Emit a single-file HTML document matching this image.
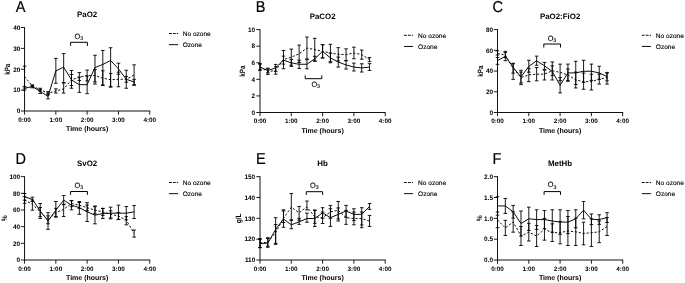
<!DOCTYPE html><html><head><meta charset="utf-8"><title>Figure</title><style>html,body{margin:0;padding:0;background:#fff;}body{width:685px;height:283px;overflow:hidden;font-family:"Liberation Sans",sans-serif;}svg{display:block;will-change:transform;}</style></head><body><svg width="685" height="283" viewBox="0 0 685 283" text-rendering="geometricPrecision" font-family="Liberation Sans, sans-serif">
<rect width="685" height="283" fill="#fff"/>
<g><text transform="translate(15.8 12) scale(0.92 1)" font-size="15.8" fill="#000" stroke="#000" stroke-width="0.2">A</text><text x="87.15" y="17" font-size="7.9" font-weight="bold" text-anchor="middle" fill="#000">PaO2</text><path d="M24.55 27.1V111H150.15" fill="none" stroke="#111" stroke-width="1"/><text x="20.25" y="113.25" font-size="6.4" font-weight="bold" text-anchor="end" fill="#000">0</text><text x="20.25" y="92.38" font-size="6.4" font-weight="bold" text-anchor="end" fill="#000">10</text><text x="20.25" y="71.5" font-size="6.4" font-weight="bold" text-anchor="end" fill="#000">20</text><text x="20.25" y="50.62" font-size="6.4" font-weight="bold" text-anchor="end" fill="#000">30</text><text x="20.25" y="29.75" font-size="6.4" font-weight="bold" text-anchor="end" fill="#000">40</text><text x="24.55" y="121.75" font-size="6.35" font-weight="bold" text-anchor="middle" fill="#000">0:00</text><text x="55.85" y="121.75" font-size="6.35" font-weight="bold" text-anchor="middle" fill="#000">1:00</text><text x="87.15" y="121.75" font-size="6.35" font-weight="bold" text-anchor="middle" fill="#000">2:00</text><text x="118.45" y="121.75" font-size="6.35" font-weight="bold" text-anchor="middle" fill="#000">3:00</text><text x="149.75" y="121.75" font-size="6.35" font-weight="bold" text-anchor="middle" fill="#000">4:00</text><path d="M20.85 111H24.55M20.85 90.12H24.55M20.85 69.25H24.55M20.85 48.38H24.55M20.85 27.5H24.55M24.55 111V114.7M55.85 111V114.7M87.15 111V114.7M118.45 111V114.7M149.75 111V114.7" fill="none" stroke="#111" stroke-width="0.95"/><text x="87.15" y="131.1" font-size="7" font-weight="bold" text-anchor="middle" fill="#000">Time (hours)</text><text transform="translate(9.9 69.25) rotate(-90) scale(0.817 1)" font-size="7.7" font-weight="bold" text-anchor="middle" fill="#000">kPa</text><path d="M169 33.5h9.1" stroke="#000" stroke-width="0.95" stroke-dasharray="2.8 1.1" fill="none"/><path d="M169 44.65h9.1" stroke="#000" stroke-width="0.95" fill="none"/><text x="182.7" y="36" font-size="6.55" fill="#000" stroke="#000" stroke-width="0.12">No ozone</text><text x="182.7" y="47.15" font-size="6.55" fill="#000" stroke="#000" stroke-width="0.12">Ozone</text><path d="M70.6 45.9V42.3H87.4V45.9" fill="none" stroke="#000" stroke-width="1"/><text transform="translate(78.8 39) scale(0.94 1)" font-size="7.8" text-anchor="middle" fill="#000" stroke="#000" stroke-width="0.12">O<tspan font-size="5.5" dy="1.2">3</tspan></text><path d="M24.55 66.12V88.04M22.75 66.12h3.6M22.75 88.04h3.6M32.38 84.91V86.99M30.57 84.91h3.6M30.57 86.99h3.6M40.2 88.25V91.17M38.4 88.25h3.6M38.4 91.17h3.6M48.03 91.59V94.93M46.23 91.59h3.6M46.23 94.93h3.6M55.85 88.87V93.05M54.05 88.87h3.6M54.05 93.05h3.6M63.67 83.03V93.05M61.88 83.03h3.6M61.88 93.05h3.6M71.5 70.5V85.53M69.7 70.5h3.6M69.7 85.53h3.6M79.33 72.59V80.52M77.53 72.59h3.6M77.53 80.52h3.6M87.15 70.09V80.94M85.35 70.09h3.6M85.35 80.94h3.6M94.97 69.67V81.98M93.17 69.67h3.6M93.17 81.98h3.6M102.8 70.71V84.91M101 70.71h3.6M101 84.91h3.6M110.62 73.43V86.37M108.83 73.43h3.6M108.83 86.37h3.6M118.45 72.17V86.78M116.65 72.17h3.6M116.65 86.78h3.6M126.28 76.35V82.19M124.48 76.35h3.6M124.48 82.19h3.6M134.1 64.87V85.32M132.3 64.87h3.6M132.3 85.32h3.6" fill="none" stroke="#000" stroke-width="0.9"/><path d="M24.55 86.37V90.12M22.75 86.37h3.6M22.75 90.12h3.6M32.38 85.32V87.83M30.57 85.32h3.6M30.57 87.83h3.6M40.2 89.29V93.47M38.4 89.29h3.6M38.4 93.47h3.6M48.03 93.67V98.89M46.23 93.67h3.6M46.23 98.89h3.6M55.85 58.4V83.24M54.05 58.4h3.6M54.05 83.24h3.6M63.67 53.59V82.61M61.88 53.59h3.6M61.88 82.61h3.6M71.5 74.47V88.25M69.7 74.47h3.6M69.7 88.25h3.6M79.33 77.18V92.42M77.53 77.18h3.6M77.53 92.42h3.6M87.15 76.14V93.67M85.35 76.14h3.6M85.35 93.67h3.6M94.97 55.26V84.07M93.17 55.26h3.6M93.17 84.07h3.6M102.8 50.46V85.53M101 50.46h3.6M101 85.53h3.6M110.62 47.75V87.2M108.83 47.75h3.6M108.83 87.2h3.6M118.45 63.2V74.26M116.65 63.2h3.6M116.65 74.26h3.6M126.28 70.29V88.25M124.48 70.29h3.6M124.48 88.25h3.6M134.1 79.27V84.7M132.3 79.27h3.6M132.3 84.7h3.6" fill="none" stroke="#000" stroke-width="0.9"/><polyline points="24.55,76.56 32.38,85.95 40.2,89.71 48.03,93.26 55.85,90.96 63.67,88.87 71.5,79.9 79.33,77.18 87.15,75.51 94.97,75.51 102.8,78.23 110.62,79.69 118.45,79.27 126.28,79.27 134.1,75.09" fill="none" stroke="#000" stroke-width="0.95" stroke-dasharray="2.2 1.8"/><polyline points="24.55,88.25 32.38,86.58 40.2,91.38 48.03,96.39 55.85,70.92 63.67,67.16 71.5,79.9 79.33,84.7 87.15,84.7 94.97,67.58 102.8,64.45 110.62,60.48 118.45,68.83 126.28,79.27 134.1,81.98" fill="none" stroke="#000" stroke-width="0.95"/></g>
<g><text transform="translate(255.7 11.8) scale(0.92 1)" font-size="15.8" fill="#000" stroke="#000" stroke-width="0.2">B</text><text x="322.6" y="18.6" font-size="7.9" font-weight="bold" text-anchor="middle" fill="#000">PaCO2</text><path d="M260 29.2V112.5H385.6" fill="none" stroke="#111" stroke-width="1"/><text x="255.1" y="114.75" font-size="6.4" font-weight="bold" text-anchor="end" fill="#000">0</text><text x="255.1" y="98.17" font-size="6.4" font-weight="bold" text-anchor="end" fill="#000">2</text><text x="255.1" y="81.59" font-size="6.4" font-weight="bold" text-anchor="end" fill="#000">4</text><text x="255.1" y="65.01" font-size="6.4" font-weight="bold" text-anchor="end" fill="#000">6</text><text x="255.1" y="48.43" font-size="6.4" font-weight="bold" text-anchor="end" fill="#000">8</text><text x="255.1" y="31.85" font-size="6.4" font-weight="bold" text-anchor="end" fill="#000">10</text><text x="260" y="123.25" font-size="6.35" font-weight="bold" text-anchor="middle" fill="#000">0:00</text><text x="291.3" y="123.25" font-size="6.35" font-weight="bold" text-anchor="middle" fill="#000">1:00</text><text x="322.6" y="123.25" font-size="6.35" font-weight="bold" text-anchor="middle" fill="#000">2:00</text><text x="353.9" y="123.25" font-size="6.35" font-weight="bold" text-anchor="middle" fill="#000">3:00</text><text x="385.2" y="123.25" font-size="6.35" font-weight="bold" text-anchor="middle" fill="#000">4:00</text><path d="M256.3 112.5H260M256.3 95.92H260M256.3 79.34H260M256.3 62.76H260M256.3 46.18H260M256.3 29.6H260M260 112.5V116.2M291.3 112.5V116.2M322.6 112.5V116.2M353.9 112.5V116.2M385.2 112.5V116.2" fill="none" stroke="#111" stroke-width="0.95"/><text x="322.6" y="132.6" font-size="7" font-weight="bold" text-anchor="middle" fill="#000">Time (hours)</text><text transform="translate(244.8 71.05) rotate(-90) scale(0.817 1)" font-size="7.7" font-weight="bold" text-anchor="middle" fill="#000">kPa</text><path d="M404 35.25h9.1" stroke="#000" stroke-width="0.95" stroke-dasharray="2.8 1.1" fill="none"/><path d="M404 46.45h9.1" stroke="#000" stroke-width="0.95" fill="none"/><text x="418.1" y="37.75" font-size="6.55" fill="#000" stroke="#000" stroke-width="0.12">No ozone</text><text x="418.1" y="48.95" font-size="6.55" fill="#000" stroke="#000" stroke-width="0.12">Ozone</text><path d="M305.2 75.4V78.7H321.8V75.4" fill="none" stroke="#000" stroke-width="1"/><text transform="translate(315.7 87.1) scale(0.94 1)" font-size="7.8" text-anchor="middle" fill="#000" stroke="#000" stroke-width="0.12">O<tspan font-size="5.5" dy="1.2">3</tspan></text><path d="M260 63.59V70.22M258.2 63.59h3.6M258.2 70.22h3.6M267.82 68.73V74.53M266.02 68.73h3.6M266.02 74.53h3.6M275.65 66.74V74.2M273.85 66.74h3.6M273.85 74.2h3.6M283.48 50.49V68.73M281.68 50.49h3.6M281.68 68.73h3.6M291.3 49.08V65.16M289.5 49.08h3.6M289.5 65.16h3.6M299.12 45.1V62.51M297.32 45.1h3.6M297.32 62.51h3.6M306.95 37.06V58.95M305.15 37.06h3.6M305.15 58.95h3.6M314.77 38.3V61.02M312.97 38.3h3.6M312.97 61.02h3.6M322.6 44.69V57.95M320.8 44.69h3.6M320.8 57.95h3.6M330.43 44.27V61.68M328.62 44.27h3.6M328.62 61.68h3.6M338.25 47.67V60.94M336.45 47.67h3.6M336.45 60.94h3.6M346.07 48.83V60.44M344.27 48.83h3.6M344.27 60.44h3.6M353.9 47.17V58.78M352.1 47.17h3.6M352.1 58.78h3.6M361.73 50.08V59.2M359.93 50.08h3.6M359.93 59.2h3.6M369.55 57.54V61.68M367.75 57.54h3.6M367.75 61.68h3.6" fill="none" stroke="#000" stroke-width="0.9"/><path d="M260 64.17V69.97M258.2 64.17h3.6M258.2 69.97h3.6M267.82 68.15V72.79M266.02 68.15h3.6M266.02 72.79h3.6M275.65 64.42V71.38M273.85 64.42h3.6M273.85 71.38h3.6M283.48 56.13V64.09M281.68 56.13h3.6M281.68 64.09h3.6M291.3 59.44V66.41M289.5 59.44h3.6M289.5 66.41h3.6M299.12 60.11V68.4M297.32 60.11h3.6M297.32 68.4h3.6M306.95 59.69V68.81M305.15 59.69h3.6M305.15 68.81h3.6M314.77 56.29V61.27M312.97 56.29h3.6M312.97 61.27h3.6M322.6 44.69V57.95M320.8 44.69h3.6M320.8 57.95h3.6M330.43 53.14V62.76M328.62 53.14h3.6M328.62 62.76h3.6M338.25 57.12V67.07M336.45 57.12h3.6M336.45 67.07h3.6M346.07 60.77V69.06M344.27 60.77h3.6M344.27 69.06h3.6M353.9 63.17V70.97M352.1 63.17h3.6M352.1 70.97h3.6M361.73 63.75V72.04M359.93 63.75h3.6M359.93 72.04h3.6M369.55 63.67V70.47M367.75 63.67h3.6M367.75 70.47h3.6" fill="none" stroke="#000" stroke-width="0.9"/><polyline points="260,66.91 267.82,71.63 275.65,70.47 283.48,59.61 291.3,57.12 299.12,53.81 306.95,48 314.77,49.66 322.6,51.32 330.43,52.98 338.25,54.3 346.07,54.64 353.9,52.98 361.73,54.64 369.55,59.61" fill="none" stroke="#000" stroke-width="0.95" stroke-dasharray="2.2 1.8"/><polyline points="260,67.07 267.82,70.47 275.65,67.9 283.48,60.11 291.3,62.93 299.12,64.25 306.95,64.25 314.77,58.78 322.6,51.32 330.43,57.95 338.25,62.1 346.07,64.92 353.9,67.07 361.73,67.9 369.55,67.07" fill="none" stroke="#000" stroke-width="0.95"/></g>
<g><text transform="translate(492.4 12) scale(0.92 1)" font-size="15.8" fill="#000" stroke="#000" stroke-width="0.2">C</text><text x="560.1" y="18.6" font-size="7.9" font-weight="bold" text-anchor="middle" fill="#000">PaO2:FiO2</text><path d="M497.5 29.2V112.5H623.1" fill="none" stroke="#111" stroke-width="1"/><text x="493" y="114.75" font-size="6.4" font-weight="bold" text-anchor="end" fill="#000">0</text><text x="493" y="94.03" font-size="6.4" font-weight="bold" text-anchor="end" fill="#000">20</text><text x="493" y="73.3" font-size="6.4" font-weight="bold" text-anchor="end" fill="#000">40</text><text x="493" y="52.57" font-size="6.4" font-weight="bold" text-anchor="end" fill="#000">60</text><text x="493" y="31.85" font-size="6.4" font-weight="bold" text-anchor="end" fill="#000">80</text><text x="497.5" y="123.25" font-size="6.35" font-weight="bold" text-anchor="middle" fill="#000">0:00</text><text x="528.8" y="123.25" font-size="6.35" font-weight="bold" text-anchor="middle" fill="#000">1:00</text><text x="560.1" y="123.25" font-size="6.35" font-weight="bold" text-anchor="middle" fill="#000">2:00</text><text x="591.4" y="123.25" font-size="6.35" font-weight="bold" text-anchor="middle" fill="#000">3:00</text><text x="622.7" y="123.25" font-size="6.35" font-weight="bold" text-anchor="middle" fill="#000">4:00</text><path d="M493.8 112.5H497.5M493.8 91.78H497.5M493.8 71.05H497.5M493.8 50.32H497.5M493.8 29.6H497.5M497.5 112.5V116.2M528.8 112.5V116.2M560.1 112.5V116.2M591.4 112.5V116.2M622.7 112.5V116.2" fill="none" stroke="#111" stroke-width="0.95"/><text x="560.1" y="132.6" font-size="7" font-weight="bold" text-anchor="middle" fill="#000">Time (hours)</text><text transform="translate(482.5 71.05) rotate(-90) scale(0.817 1)" font-size="7.7" font-weight="bold" text-anchor="middle" fill="#000">kPa</text><path d="M641.9 35.25h9.1" stroke="#000" stroke-width="0.95" stroke-dasharray="2.8 1.1" fill="none"/><path d="M641.9 46.45h9.1" stroke="#000" stroke-width="0.95" fill="none"/><text x="655.8" y="37.75" font-size="6.55" fill="#000" stroke="#000" stroke-width="0.12">No ozone</text><text x="655.8" y="48.95" font-size="6.55" fill="#000" stroke="#000" stroke-width="0.12">Ozone</text><path d="M543.8 47.5V44H560.5V47.5" fill="none" stroke="#000" stroke-width="1"/><text transform="translate(551.95 41) scale(0.94 1)" font-size="7.8" text-anchor="middle" fill="#000" stroke="#000" stroke-width="0.12">O<tspan font-size="5.5" dy="1.2">3</tspan></text><path d="M497.5 50.84V57.58M495.7 50.84h3.6M495.7 57.58h3.6M505.32 52.4V57.58M503.52 52.4h3.6M503.52 57.58h3.6M513.15 63.8V73.12M511.35 63.8h3.6M511.35 73.12h3.6M520.98 72.09V82.97M519.18 72.09h3.6M519.18 82.97h3.6M528.8 68.36V81.62M527 68.36h3.6M527 81.62h3.6M536.62 67.53V80.79M534.83 67.53h3.6M534.83 80.79h3.6M544.45 70.22V79.96M542.65 70.22h3.6M542.65 79.96h3.6M552.27 65.87V75.71M550.48 65.87h3.6M550.48 75.71h3.6M560.1 64.11V80.69M558.3 64.11h3.6M558.3 80.69h3.6M567.92 68.98V80.38M566.12 68.98h3.6M566.12 80.38h3.6M575.75 72.09V87.94M573.95 72.09h3.6M573.95 87.94h3.6M583.58 73.12V89.29M581.78 73.12h3.6M581.78 89.29h3.6M591.4 74.16V90.01M589.6 74.16h3.6M589.6 90.01h3.6M599.23 74.16V84.11M597.43 74.16h3.6M597.43 84.11h3.6M607.05 73.12V84.11M605.25 73.12h3.6M605.25 84.11h3.6" fill="none" stroke="#000" stroke-width="0.9"/><path d="M497.5 54.99V64.31M495.7 54.99h3.6M495.7 64.31h3.6M505.32 51.36V60.69M503.52 51.36h3.6M503.52 60.69h3.6M513.15 63.28V79.34M511.35 63.28h3.6M511.35 79.34h3.6M520.98 70.32V84.62M519.18 70.32h3.6M519.18 84.62h3.6M528.8 60.27V72.19M527 60.27h3.6M527 72.19h3.6M536.62 56.13V65.25M534.83 56.13h3.6M534.83 65.25h3.6M544.45 62.45V69.29M542.65 62.45h3.6M542.65 69.29h3.6M552.27 61.93V79.96M550.48 61.93h3.6M550.48 79.96h3.6M560.1 77.58V92.91M558.3 77.58h3.6M558.3 92.91h3.6M567.92 64.11V81.31M566.12 64.11h3.6M566.12 81.31h3.6M575.75 61.31V84.52M573.95 61.31h3.6M573.95 84.52h3.6M583.58 60.27V82.45M581.78 60.27h3.6M581.78 82.45h3.6M591.4 64.11V80.38M589.6 64.11h3.6M589.6 80.38h3.6M599.23 66.28V79.34M597.43 66.28h3.6M597.43 79.34h3.6M607.05 72.4V80.89M605.25 72.4h3.6M605.25 80.89h3.6" fill="none" stroke="#000" stroke-width="0.9"/><polyline points="497.5,53.43 505.32,54.99 513.15,68.25 520.98,77.47 528.8,74.88 536.62,74.16 544.45,74.16 552.27,70.74 560.1,72.4 567.92,74.88 575.75,79.96 583.58,81.62 591.4,81.62 599.23,79.13 607.05,77.47" fill="none" stroke="#000" stroke-width="0.95" stroke-dasharray="2.2 1.8"/><polyline points="497.5,60.69 505.32,56.34 513.15,67.42 520.98,76.96 528.8,66.39 536.62,60.79 544.45,65.77 552.27,71.57 560.1,85.25 567.92,72.92 575.75,72.92 583.58,71.26 591.4,71.26 599.23,72.92 607.05,76.54" fill="none" stroke="#000" stroke-width="0.95"/></g>
<g><text transform="translate(15.6 163.6) scale(0.92 1)" font-size="15.8" fill="#000" stroke="#000" stroke-width="0.2">D</text><text x="87.15" y="166" font-size="7.9" font-weight="bold" text-anchor="middle" fill="#000">SvO2</text><path d="M24.55 176.25V260H150.15" fill="none" stroke="#111" stroke-width="1"/><text x="20.15" y="262.25" font-size="6.4" font-weight="bold" text-anchor="end" fill="#000">0</text><text x="20.15" y="245.58" font-size="6.4" font-weight="bold" text-anchor="end" fill="#000">20</text><text x="20.15" y="228.91" font-size="6.4" font-weight="bold" text-anchor="end" fill="#000">40</text><text x="20.15" y="212.24" font-size="6.4" font-weight="bold" text-anchor="end" fill="#000">60</text><text x="20.15" y="195.57" font-size="6.4" font-weight="bold" text-anchor="end" fill="#000">80</text><text x="20.15" y="178.9" font-size="6.4" font-weight="bold" text-anchor="end" fill="#000">100</text><text x="24.55" y="270.75" font-size="6.35" font-weight="bold" text-anchor="middle" fill="#000">0:00</text><text x="55.85" y="270.75" font-size="6.35" font-weight="bold" text-anchor="middle" fill="#000">1:00</text><text x="87.15" y="270.75" font-size="6.35" font-weight="bold" text-anchor="middle" fill="#000">2:00</text><text x="118.45" y="270.75" font-size="6.35" font-weight="bold" text-anchor="middle" fill="#000">3:00</text><text x="149.75" y="270.75" font-size="6.35" font-weight="bold" text-anchor="middle" fill="#000">4:00</text><path d="M20.85 260H24.55M20.85 243.33H24.55M20.85 226.66H24.55M20.85 209.99H24.55M20.85 193.32H24.55M20.85 176.65H24.55M24.55 260V263.7M55.85 260V263.7M87.15 260V263.7M118.45 260V263.7M149.75 260V263.7" fill="none" stroke="#111" stroke-width="0.95"/><text x="87.15" y="280.1" font-size="7" font-weight="bold" text-anchor="middle" fill="#000">Time (hours)</text><text transform="translate(6.8 218.32) rotate(-90) scale(0.87 1)" font-size="7.7" font-weight="bold" text-anchor="middle" fill="#000">%</text><path d="M169 182.5h9.1" stroke="#000" stroke-width="0.95" stroke-dasharray="2.8 1.1" fill="none"/><path d="M169 193.65h9.1" stroke="#000" stroke-width="0.95" fill="none"/><text x="182.7" y="185" font-size="6.55" fill="#000" stroke="#000" stroke-width="0.12">No ozone</text><text x="182.7" y="196.15" font-size="6.55" fill="#000" stroke="#000" stroke-width="0.12">Ozone</text><path d="M70.6 194.8V191.5H87.4V194.8" fill="none" stroke="#000" stroke-width="1"/><text transform="translate(78.8 187.9) scale(0.94 1)" font-size="7.8" text-anchor="middle" fill="#000" stroke="#000" stroke-width="0.12">O<tspan font-size="5.5" dy="1.2">3</tspan></text><path d="M24.55 196.65V203.32M22.75 196.65h3.6M22.75 203.32h3.6M32.38 199.99V210.16M30.57 199.99h3.6M30.57 210.16h3.6M40.2 207.49V216.66M38.4 207.49h3.6M38.4 216.66h3.6M48.03 215.82V223.83M46.23 215.82h3.6M46.23 223.83h3.6M55.85 208.32V216.66M54.05 208.32h3.6M54.05 216.66h3.6M63.67 204.16V216.49M61.88 204.16h3.6M61.88 216.49h3.6M71.5 200.82V206.66M69.7 200.82h3.6M69.7 206.66h3.6M79.33 202.49V208.32M77.53 202.49h3.6M77.53 208.32h3.6M87.15 204.99V210.82M85.35 204.99h3.6M85.35 210.82h3.6M94.97 206.66V213.74M93.17 206.66h3.6M93.17 213.74h3.6M102.8 208.32V215.41M101 208.32h3.6M101 215.41h3.6M110.62 210.82V217.91M108.83 210.82h3.6M108.83 217.91h3.6M118.45 212.49V219.58M116.65 212.49h3.6M116.65 219.58h3.6M126.28 216.66V224.83M124.48 216.66h3.6M124.48 224.83h3.6M134.1 229.99V237.08M132.3 229.99h3.6M132.3 237.08h3.6" fill="none" stroke="#000" stroke-width="0.9"/><path d="M24.55 193.49V200.15M22.75 193.49h3.6M22.75 200.15h3.6M32.38 197.15V201.49M30.57 197.15h3.6M30.57 201.49h3.6M40.2 203.49V218.49M38.4 203.49h3.6M38.4 218.49h3.6M48.03 212.66V229.33M46.23 212.66h3.6M46.23 229.33h3.6M55.85 201.49V217.16M54.05 201.49h3.6M54.05 217.16h3.6M63.67 195.49V204.82M61.88 195.49h3.6M61.88 204.82h3.6M71.5 200.49V209.82M69.7 200.49h3.6M69.7 209.82h3.6M79.33 201.49V214.32M77.53 201.49h3.6M77.53 214.32h3.6M87.15 202.66V221.49M85.35 202.66h3.6M85.35 221.49h3.6M94.97 205.99V223.83M93.17 205.99h3.6M93.17 223.83h3.6M102.8 208.49V218.49M101 208.49h3.6M101 218.49h3.6M110.62 207.16V218.83M108.83 207.16h3.6M108.83 218.83h3.6M118.45 205.16V219.33M116.65 205.16h3.6M116.65 219.33h3.6M126.28 206.49V219.83M124.48 206.49h3.6M124.48 219.83h3.6M134.1 205.49V218.49M132.3 205.49h3.6M132.3 218.49h3.6" fill="none" stroke="#000" stroke-width="0.9"/><polyline points="24.55,199.82 32.38,204.32 40.2,211.82 48.03,219.83 55.85,212.66 63.67,209.32 71.5,203.49 79.33,205.16 87.15,207.66 94.97,210.16 102.8,211.82 110.62,214.32 118.45,215.99 126.28,220.16 134.1,233.33" fill="none" stroke="#000" stroke-width="0.95" stroke-dasharray="2.2 1.8"/><polyline points="24.55,196.82 32.38,199.32 40.2,210.99 48.03,220.99 55.85,210.16 63.67,200.15 71.5,205.16 79.33,207.66 87.15,211.82 94.97,215.16 102.8,213.49 110.62,213.16 118.45,213.16 126.28,213.16 134.1,211.82" fill="none" stroke="#000" stroke-width="0.95"/></g>
<g><text transform="translate(255.9 163.6) scale(0.92 1)" font-size="15.8" fill="#000" stroke="#000" stroke-width="0.2">E</text><text x="322.6" y="166" font-size="7.9" font-weight="bold" text-anchor="middle" fill="#000">Hb</text><path d="M260 176.25V260H385.6" fill="none" stroke="#111" stroke-width="1"/><text x="255.2" y="262.25" font-size="6.4" font-weight="bold" text-anchor="end" fill="#000">110</text><text x="255.2" y="241.41" font-size="6.4" font-weight="bold" text-anchor="end" fill="#000">120</text><text x="255.2" y="220.57" font-size="6.4" font-weight="bold" text-anchor="end" fill="#000">130</text><text x="255.2" y="199.74" font-size="6.4" font-weight="bold" text-anchor="end" fill="#000">140</text><text x="255.2" y="178.9" font-size="6.4" font-weight="bold" text-anchor="end" fill="#000">150</text><text x="260" y="270.75" font-size="6.35" font-weight="bold" text-anchor="middle" fill="#000">0:00</text><text x="291.3" y="270.75" font-size="6.35" font-weight="bold" text-anchor="middle" fill="#000">1:00</text><text x="322.6" y="270.75" font-size="6.35" font-weight="bold" text-anchor="middle" fill="#000">2:00</text><text x="353.9" y="270.75" font-size="6.35" font-weight="bold" text-anchor="middle" fill="#000">3:00</text><text x="385.2" y="270.75" font-size="6.35" font-weight="bold" text-anchor="middle" fill="#000">4:00</text><path d="M256.3 260H260M256.3 239.16H260M256.3 218.32H260M256.3 197.49H260M256.3 176.65H260M260 260V263.7M291.3 260V263.7M322.6 260V263.7M353.9 260V263.7M385.2 260V263.7" fill="none" stroke="#111" stroke-width="0.95"/><text x="322.6" y="280.1" font-size="7" font-weight="bold" text-anchor="middle" fill="#000">Time (hours)</text><text transform="translate(241.3 218.32) rotate(-90) scale(0.87 1)" font-size="7.7" font-weight="bold" text-anchor="middle" fill="#000">g/L</text><path d="M404 182.5h9.1" stroke="#000" stroke-width="0.95" stroke-dasharray="2.8 1.1" fill="none"/><path d="M404 193.65h9.1" stroke="#000" stroke-width="0.95" fill="none"/><text x="418.1" y="185" font-size="6.55" fill="#000" stroke="#000" stroke-width="0.12">No ozone</text><text x="418.1" y="196.15" font-size="6.55" fill="#000" stroke="#000" stroke-width="0.12">Ozone</text><path d="M306.3 194.9V191.7H322.6V194.9" fill="none" stroke="#000" stroke-width="1"/><text transform="translate(314.25 187.6) scale(0.94 1)" font-size="7.8" text-anchor="middle" fill="#000" stroke="#000" stroke-width="0.12">O<tspan font-size="5.5" dy="1.2">3</tspan></text><path d="M260 238.54V247.5M258.2 238.54h3.6M258.2 247.5h3.6M267.82 238.54V246.25M266.02 238.54h3.6M266.02 246.25h3.6M275.65 224.58V243.33M273.85 224.58h3.6M273.85 243.33h3.6M283.48 209.78V222.49M281.68 209.78h3.6M281.68 222.49h3.6M291.3 193.53V219.78M289.5 193.53h3.6M289.5 219.78h3.6M299.12 206.45V220.2M297.32 206.45h3.6M297.32 220.2h3.6M306.95 201.03V209.99M305.15 201.03h3.6M305.15 209.99h3.6M314.77 210.41V223.33M312.97 210.41h3.6M312.97 223.33h3.6M322.6 212.07V223.53M320.8 212.07h3.6M320.8 223.53h3.6M330.43 205.41V218.32M328.62 205.41h3.6M328.62 218.32h3.6M338.25 201.45V218.95M336.45 201.45h3.6M336.45 218.95h3.6M346.07 210.41V224.37M344.27 210.41h3.6M344.27 224.37h3.6M353.9 212.07V224.78M352.1 212.07h3.6M352.1 224.78h3.6M361.73 212.07V224.99M359.93 212.07h3.6M359.93 224.99h3.6M369.55 215.41V226.45M367.75 215.41h3.6M367.75 226.45h3.6" fill="none" stroke="#000" stroke-width="0.9"/><path d="M260 239.37V247.71M258.2 239.37h3.6M258.2 247.71h3.6M267.82 237.7V247.29M266.02 237.7h3.6M266.02 247.29h3.6M275.65 217.7V244.37M273.85 217.7h3.6M273.85 244.37h3.6M283.48 211.03V227.29M281.68 211.03h3.6M281.68 227.29h3.6M291.3 220.41V228.74M289.5 220.41h3.6M289.5 228.74h3.6M299.12 218.32V224.37M297.32 218.32h3.6M297.32 224.37h3.6M306.95 213.12V222.28M305.15 213.12h3.6M305.15 222.28h3.6M314.77 209.99V226.45M312.97 209.99h3.6M312.97 226.45h3.6M322.6 207.7V218.32M320.8 207.7h3.6M320.8 218.32h3.6M330.43 208.74V226.45M328.62 208.74h3.6M328.62 226.45h3.6M338.25 207.91V221.03M336.45 207.91h3.6M336.45 221.03h3.6M346.07 205.41V217.28M344.27 205.41h3.6M344.27 217.28h3.6M353.9 208.74V220.62M352.1 208.74h3.6M352.1 220.62h3.6M361.73 207.7V227.7M359.93 207.7h3.6M359.93 227.7h3.6M369.55 203.53V209.36M367.75 203.53h3.6M367.75 209.36h3.6" fill="none" stroke="#000" stroke-width="0.9"/><polyline points="260,242.91 267.82,242.29 275.65,232.49 283.48,218.32 291.3,207.28 299.12,212.7 306.95,206.86 314.77,216.87 322.6,217.7 330.43,211.87 338.25,210.2 346.07,217.7 353.9,218.53 361.73,218.53 369.55,221.03" fill="none" stroke="#000" stroke-width="0.95" stroke-dasharray="2.2 1.8"/><polyline points="260,243.54 267.82,243.12 275.65,229.37 283.48,218.95 291.3,224.78 299.12,221.87 306.95,218.53 314.77,218.53 322.6,212.7 330.43,217.7 338.25,214.37 346.07,211.03 353.9,214.37 361.73,214.37 369.55,206.45" fill="none" stroke="#000" stroke-width="0.95"/></g>
<g><text transform="translate(492.4 163.6) scale(0.92 1)" font-size="15.8" fill="#000" stroke="#000" stroke-width="0.2">F</text><text x="560.1" y="166" font-size="7.9" font-weight="bold" text-anchor="middle" fill="#000">MetHb</text><path d="M497.5 176.25V260H623.1" fill="none" stroke="#111" stroke-width="1"/><text x="493" y="262.25" font-size="6.4" font-weight="bold" text-anchor="end" fill="#000">0.0</text><text x="493" y="241.41" font-size="6.4" font-weight="bold" text-anchor="end" fill="#000">0.5</text><text x="493" y="220.57" font-size="6.4" font-weight="bold" text-anchor="end" fill="#000">1.0</text><text x="493" y="199.74" font-size="6.4" font-weight="bold" text-anchor="end" fill="#000">1.5</text><text x="493" y="178.9" font-size="6.4" font-weight="bold" text-anchor="end" fill="#000">2.0</text><text x="497.5" y="270.75" font-size="6.35" font-weight="bold" text-anchor="middle" fill="#000">0:00</text><text x="528.8" y="270.75" font-size="6.35" font-weight="bold" text-anchor="middle" fill="#000">1:00</text><text x="560.1" y="270.75" font-size="6.35" font-weight="bold" text-anchor="middle" fill="#000">2:00</text><text x="591.4" y="270.75" font-size="6.35" font-weight="bold" text-anchor="middle" fill="#000">3:00</text><text x="622.7" y="270.75" font-size="6.35" font-weight="bold" text-anchor="middle" fill="#000">4:00</text><path d="M493.8 260H497.5M493.8 239.16H497.5M493.8 218.32H497.5M493.8 197.49H497.5M493.8 176.65H497.5M497.5 260V263.7M528.8 260V263.7M560.1 260V263.7M591.4 260V263.7M622.7 260V263.7" fill="none" stroke="#111" stroke-width="0.95"/><text x="560.1" y="280.1" font-size="7" font-weight="bold" text-anchor="middle" fill="#000">Time (hours)</text><text transform="translate(481.7 218.32) rotate(-90) scale(0.87 1)" font-size="7.7" font-weight="bold" text-anchor="middle" fill="#000">%</text><path d="M641.9 182.5h9.1" stroke="#000" stroke-width="0.95" stroke-dasharray="2.8 1.1" fill="none"/><path d="M641.9 193.65h9.1" stroke="#000" stroke-width="0.95" fill="none"/><text x="655.8" y="185" font-size="6.55" fill="#000" stroke="#000" stroke-width="0.12">No ozone</text><text x="655.8" y="196.15" font-size="6.55" fill="#000" stroke="#000" stroke-width="0.12">Ozone</text><path d="M544.1 194.8V191.6H560.5V194.8" fill="none" stroke="#000" stroke-width="1"/><text transform="translate(552.1 187.4) scale(0.94 1)" font-size="7.8" text-anchor="middle" fill="#000" stroke="#000" stroke-width="0.12">O<tspan font-size="5.5" dy="1.2">3</tspan></text><path d="M497.5 212.07V227.66M495.7 212.07h3.6M495.7 227.66h3.6M505.32 220.33V235.5M503.52 220.33h3.6M503.52 235.5h3.6M513.15 211.82V232.16M511.35 211.82h3.6M511.35 232.16h3.6M520.98 226.49V245.5M519.18 226.49h3.6M519.18 245.5h3.6M528.8 223.33V241M527 223.33h3.6M527 241h3.6M536.62 225.49V246.5M534.83 225.49h3.6M534.83 246.5h3.6M544.45 218.49V240.16M542.65 218.49h3.6M542.65 240.16h3.6M552.27 223.83V241.5M550.48 223.83h3.6M550.48 241.5h3.6M560.1 221.49V243.83M558.3 221.49h3.6M558.3 243.83h3.6M567.92 216.49V245.5M566.12 216.49h3.6M566.12 245.5h3.6M575.75 218.16V245.5M573.95 218.16h3.6M573.95 245.5h3.6M583.58 222.16V244.83M581.78 222.16h3.6M581.78 244.83h3.6M591.4 218.83V246.5M589.6 218.83h3.6M589.6 246.5h3.6M599.23 220.99V242.66M597.43 220.99h3.6M597.43 242.66h3.6M607.05 217.49V235.5M605.25 217.49h3.6M605.25 235.5h3.6" fill="none" stroke="#000" stroke-width="0.9"/><path d="M497.5 196.78V215.12M495.7 196.78h3.6M495.7 215.12h3.6M505.32 198.45V213.45M503.52 198.45h3.6M503.52 213.45h3.6M513.15 205.45V218.12M511.35 205.45h3.6M511.35 218.12h3.6M520.98 210.99V236M519.18 210.99h3.6M519.18 236h3.6M528.8 207.16V230.41M527 207.16h3.6M527 230.41h3.6M536.62 209.78V229.37M534.83 209.78h3.6M534.83 229.37h3.6M544.45 210.49V228.66M542.65 210.49h3.6M542.65 228.66h3.6M552.27 209.78V232.2M550.48 209.78h3.6M550.48 232.2h3.6M560.1 209.78V234.37M558.3 209.78h3.6M558.3 234.37h3.6M567.92 210.49V233.66M566.12 210.49h3.6M566.12 233.66h3.6M575.75 209.78V227.79M573.95 209.78h3.6M573.95 227.79h3.6M583.58 201.49V218.83M581.78 201.49h3.6M581.78 218.83h3.6M591.4 213.99V224.58M589.6 213.99h3.6M589.6 224.58h3.6M599.23 214.78V224.37M597.43 214.78h3.6M597.43 224.37h3.6M607.05 212.66V222.49M605.25 212.66h3.6M605.25 222.49h3.6" fill="none" stroke="#000" stroke-width="0.9"/><polyline points="497.5,219.87 505.32,227.91 513.15,221.99 520.98,236 528.8,232.16 536.62,236 544.45,229.33 552.27,232.66 560.1,232.66 567.92,230.99 575.75,231.83 583.58,233.49 591.4,232.66 599.23,231.83 607.05,226.49" fill="none" stroke="#000" stroke-width="0.95" stroke-dasharray="2.2 1.8"/><polyline points="497.5,205.95 505.32,205.95 513.15,211.78 520.98,223.49 528.8,218.78 536.62,219.58 544.45,219.58 552.27,220.99 560.1,222.08 567.92,222.08 575.75,218.78 583.58,210.16 591.4,219.28 599.23,219.58 607.05,217.57" fill="none" stroke="#000" stroke-width="0.95"/></g>
</svg></body></html>
